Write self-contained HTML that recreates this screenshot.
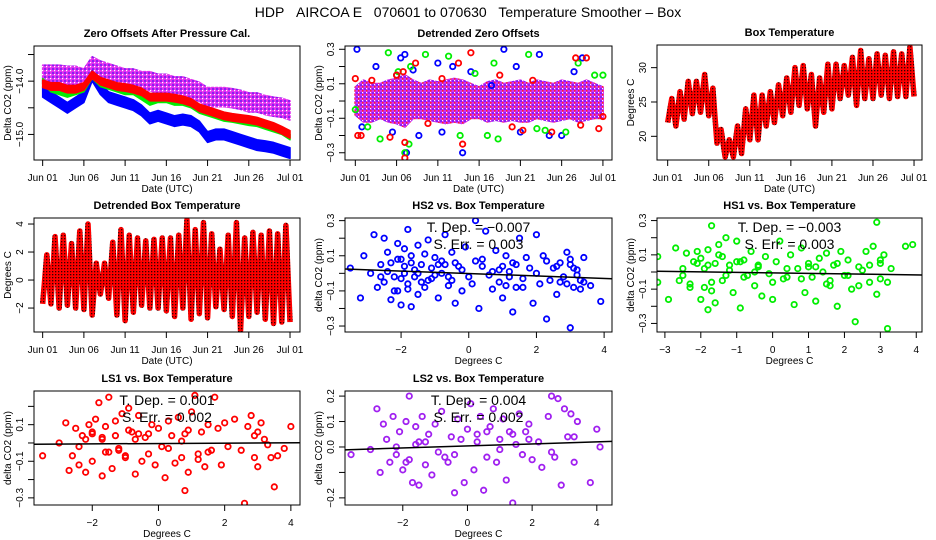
<!DOCTYPE html>
<html><head><meta charset="utf-8"><style>
html,body{margin:0;padding:0;background:#fff;}
svg{display:block;font-family:"Liberation Sans",sans-serif;}
</style></head><body>
<svg id="chart" width="936" height="540" viewBox="0 0 936 540" xmlns="http://www.w3.org/2000/svg">
<defs>
<pattern id="magpat" width="4" height="4" patternUnits="userSpaceOnUse"><rect width="4" height="4" fill="#e030f0"/><rect x="0" y="0" width="2" height="2" fill="#8a20f0"/><rect x="2" y="2" width="1.2" height="1.2" fill="#ffffff"/></pattern>
<pattern id="dzpat" width="4" height="4" patternUnits="userSpaceOnUse"><rect width="4" height="4" fill="#d030f0"/><rect x="0" y="0" width="2" height="2" fill="#8a20f0"/><rect x="2" y="2" width="1.5" height="1.5" fill="#ff2020"/><rect x="2" y="0" width="1" height="1" fill="#ffffff"/></pattern>
<pattern id="redpat" width="3" height="3" patternUnits="userSpaceOnUse"><rect width="3" height="3" fill="#ff0000"/><rect x="1" y="1" width="1.3" height="1.3" fill="#300000"/></pattern>
</defs>
<text x="468" y="17" text-anchor="middle" font-size="14">HDP&#160;&#160;&#160;AIRCOA E&#160;&#160;&#160;070601 to 070630&#160;&#160;&#160;Temperature Smoother – Box</text>
</svg>
<script>
// ---------- data ----------
const dayTicks = [0,5,10,15,20,25,30];
const dayLabels = ["Jun 01","Jun 06","Jun 11","Jun 16","Jun 21","Jun 26","Jul 01"];
// Panel 1: zero offsets (daily band centers)
const zoPurple = [-13.88,-13.88,-13.88,-13.9,-13.9,-13.95,-13.72,-13.8,-13.85,-13.9,-13.95,-13.95,-14.0,-14.0,-14.05,-14.05,-14.1,-14.1,-14.15,-14.2,-14.3,-14.3,-14.3,-14.32,-14.35,-14.4,-14.4,-14.45,-14.48,-14.5,-14.55];
const zoRed = [-14.05,-14.1,-14.1,-14.15,-14.15,-14.1,-13.88,-14.0,-14.05,-14.1,-14.12,-14.15,-14.2,-14.3,-14.3,-14.3,-14.32,-14.35,-14.4,-14.5,-14.55,-14.6,-14.65,-14.68,-14.7,-14.72,-14.75,-14.8,-14.85,-14.92,-15.0];
const zoGreen = [-14.0,-14.15,-14.2,-14.25,-14.2,-14.15,-13.9,-14.05,-14.1,-14.15,-14.2,-14.2,-14.3,-14.4,-14.35,-14.35,-14.4,-14.4,-14.45,-14.55,-14.6,-14.65,-14.7,-14.72,-14.75,-14.78,-14.8,-14.85,-14.9,-14.95,-15.05];
const zoBlue = [-14.2,-14.3,-14.4,-14.5,-14.4,-14.3,-13.9,-14.15,-14.3,-14.35,-14.4,-14.45,-14.55,-14.7,-14.65,-14.7,-14.75,-14.72,-14.75,-14.85,-15.05,-15.0,-15.0,-15.05,-15.1,-15.15,-15.2,-15.22,-15.25,-15.3,-15.35];
// Panel 2: detrended zero offsets
const dzUpper = [0.08,0.12,0.1,0.1,0.12,0.13,0.15,0.12,0.1,0.12,0.11,0.12,0.13,0.12,0.1,0.08,0.11,0.12,0.1,0.11,0.12,0.1,0.12,0.11,0.1,0.12,0.11,0.1,0.12,0.1,0.08];
const dzLower = [-0.08,-0.12,-0.12,-0.1,-0.12,-0.13,-0.15,-0.1,-0.1,-0.11,-0.12,-0.13,-0.12,-0.13,-0.1,-0.1,-0.12,-0.11,-0.12,-0.11,-0.12,-0.12,-0.1,-0.11,-0.12,-0.11,-0.1,-0.12,-0.11,-0.1,-0.1];
const dzRedDay = [0.0,0.3,0.7,2.0,4.2,5.0,5.8,6.0,6.0,7.3,8.8,10.5,12.5,13.0,14.0,17.5,19.0,20.3,21.5,23.8,26.7,27.3,28.0,29.5,30.0];
const dzRedVal = [0.13,-0.2,-0.2,0.12,-0.21,0.15,0.17,-0.24,-0.33,0.22,-0.13,0.13,0.22,-0.25,0.28,0.15,-0.15,-0.17,0.12,-0.18,0.25,-0.14,0.25,-0.16,-0.09];
const dzGreenDay = [0.0,1.5,3.0,4.0,5.2,6.0,6.7,6.5,8.5,11.3,12.7,14.5,16.0,16.8,17.3,21.0,22.0,23.0,25.5,27.0,29.0,30.0];
const dzGreenVal = [-0.05,-0.15,-0.22,0.28,0.17,-0.3,0.2,-0.25,0.27,0.26,-0.2,0.16,-0.2,0.22,-0.22,0.27,-0.16,-0.17,-0.18,0.22,0.15,0.15];
const dzBlueDay = [0.2,0.8,2.5,4.5,5.0,5.5,6.0,6.2,7.0,7.7,10.0,10.5,11.8,13.0,14.0,16.5,18.0,19.5,20.0,22.3,23.5,25.0,26.5,27.5];
const dzBlueVal = [0.3,-0.15,0.2,-0.18,0.15,0.25,0.27,-0.3,0.18,-0.2,0.22,-0.18,0.2,-0.3,0.17,0.09,0.3,0.2,-0.18,0.27,-0.2,-0.2,0.17,0.25];
// Panel 3: box temperature daily min / max
const btMin = [22,21.5,22.5,23.3,23.5,23,19,17,17,17.5,19.5,19.5,21.5,22,23,23.5,24.5,24,21.5,23.5,24,25.5,26,24.5,25.5,25.5,26,25.5,25.8,25.8];
const btMax = [25.5,26.5,28,28,29,27,21,19.5,21.5,24,26,26,26.5,27.5,28.5,30,30.3,29,28.5,30.5,30.5,30.3,31.5,32.5,31.3,32,31.8,32.3,32,33];
// Panel 4: detrended box temperature daily min / max
const dbMin = [-1.7,-1.7,-2.0,-1.8,-2.0,-2.1,-2.5,-1.0,-1.3,-2.5,-2.9,-2.3,-1.8,-2.0,-2.0,-2.2,-2.6,-2.0,-2.8,-2.4,-2.7,-1.9,-2.1,-2.6,-3.6,-2.6,-2.3,-2.8,-3.1,-3.0];
const dbMax = [1.8,3.1,3.2,2.6,3.5,4.0,1.2,1.2,2.7,3.6,3.2,3.0,2.8,2.9,3.0,3.0,3.2,4.3,3.6,4.1,3.3,2.2,3.2,4.1,3.0,3.4,3.2,3.5,3.3,3.9];
// Scatter panels
const hs2X = [-3.5,-3.2,-3.1,-2.9,-2.8,-2.7,-2.6,-2.5,-2.5,-2.4, -2.3,-2.3,-2.2,-2.1,-2.1,-2.0,-2.0,-1.9,-1.9,-1.8, -1.8,-1.7,-1.7,-1.6,-1.5,-1.5,-1.4,-1.3,-1.2,-1.1, -1.0,-0.9,-0.8,-0.7,-0.6,-0.5,-0.4,-0.3,-0.2,-0.1, 0.0,0.2,0.3,0.4,0.5,0.7,0.8,0.9,1.0,1.1, 1.2,1.3,1.4,1.5,1.6,1.8,1.9,2.0,2.1,2.2, 2.3,2.5,2.6,2.7,2.8,2.9,3.0,3.0,3.1,3.2, 3.3,3.4,3.6,3.9,-1.6,-0.7,1.2,2.4,-2.2,0.6, -2.4,-2.0,-1.7,-1.4,-1.1,-0.8,-0.5,-0.2,0.1,0.4, 0.9,1.1,1.3,1.6,2.0,2.3,2.7,3.0,3.2,3.4, -2.6,-1.9,-1.5,-1.2,-0.9,-0.6,0.2,1.0,2.9,3.1, -2.1,-1.8,-1.3,-1.0,-0.4,0.7,1.4,1.7,2.6,3.3];
const hs2Y = [0.03,-0.14,0.10,0.00,0.22,-0.08,0.05,0.20,-0.05,0.12, -0.15,0.06,-0.02,0.17,-0.10,0.08,-0.18,0.00,0.14,-0.06, 0.25,0.10,-0.19,0.02,-0.12,0.16,0.05,-0.08,0.19,-0.03, 0.09,-0.14,0.00,0.22,-0.07,0.12,-0.17,0.04,-0.10,0.15, -0.02,0.30,-0.20,0.08,0.24,-0.09,0.13,-0.05,-0.14,0.10, -0.02,-0.22,0.05,0.20,-0.08,0.03,-0.17,0.22,-0.06,0.10, -0.26,0.03,-0.12,0.06,-0.02,0.12,-0.31,0.05,-0.08,0.02, -0.04,0.09,-0.07,-0.16,-0.02,0.05,0.01,-0.04,-0.10,-0.01, 0.01,-0.03,0.06,-0.05,0.03,0.07,-0.04,0.02,-0.06,0.04, 0.02,-0.07,0.06,-0.03,0.00,0.07,-0.05,0.08,-0.01,-0.05, -0.02,0.04,0.00,-0.04,0.05,-0.02,0.07,0.04,-0.06,0.03, 0.08,-0.09,0.11,-0.01,0.06,0.01,-0.08,0.09,0.04,-0.09];
const hs1X = [-3.2,-3.2,-2.9,-2.7,-2.6,-2.5,-2.4,-2.3,-2.2,-2.1, -2.0,-2.0,-1.9,-1.8,-1.8,-1.7,-1.7,-1.6,-1.6,-1.5, -1.5,-1.4,-1.3,-1.2,-1.1,-1.0,-0.9,-0.8,-0.7,-0.6, -0.5,-0.4,-0.3,-0.2,-0.1,0.0,0.1,0.2,0.3,0.5, 0.6,0.7,0.8,0.9,1.0,1.1,1.2,1.3,1.4,1.5, 1.6,1.7,1.8,1.9,2.0,2.1,2.2,2.3,2.4,2.6, 2.7,2.8,2.9,2.9,3.0,3.1,3.2,3.2,3.7,3.9, -1.8,-1.3,-0.9,0.4,1.0,1.6,2.5,3.0,-2.3,-0.5, -2.5,-2.1,-1.7,-1.4,-1.2,-0.8,-0.4,0.0,0.4,0.8, 1.2,1.5,1.8,2.1,2.4,2.7,3.0,3.3,-1.9,-1.0];
const hs1Y = [0.09,-0.06,-0.16,0.14,-0.05,0.02,0.11,-0.09,0.06,0.12, -0.16,0.08,0.02,-0.22,0.13,-0.11,0.27,0.05,-0.18,0.16, 0.10,-0.05,0.20,0.04,-0.12,0.18,-0.21,0.07,-0.02,0.12, -0.08,0.03,-0.14,0.09,-0.01,-0.16,0.06,0.18,-0.04,0.10, -0.19,0.02,0.14,-0.12,0.05,-0.03,-0.17,0.08,0.00,0.11, -0.08,0.04,-0.20,0.12,-0.02,0.07,-0.10,-0.29,0.03,0.12, -0.06,0.15,0.29,-0.13,0.07,0.10,-0.33,-0.06,0.15,0.16, 0.04,-0.02,0.06,-0.03,0.03,-0.05,0.01,0.05,-0.07,0.00, -0.02,0.05,-0.06,0.09,0.01,-0.03,0.04,-0.06,0.02,-0.04, 0.03,-0.07,0.05,-0.02,-0.08,0.04,-0.04,0.02,-0.09,0.06];
const ls1X = [-3.5,-3.0,-2.8,-2.7,-2.6,-2.5,-2.4,-2.3,-2.2,-2.1, -2.0,-2.0,-1.9,-1.8,-1.7,-1.7,-1.6,-1.5,-1.5,-1.4, -1.3,-1.2,-1.1,-1.0,-0.9,-0.8,-0.7,-0.6,-0.5,-0.4, -0.3,-0.2,-0.1,0.0,0.2,0.3,0.4,0.5,0.6,0.7, 0.8,0.8,0.9,1.0,1.1,1.2,1.3,1.4,1.5,1.6, 1.7,1.8,1.9,2.0,2.1,2.3,2.5,2.6,2.7,2.8, 2.9,3.0,3.0,3.1,3.2,3.4,3.5,3.6,3.8,4.0, -1.7,-1.2,-0.6,0.1,0.7,1.2,2.9,3.3,-2.2,-0.9, -2.4,-2.0,-1.6,-1.3,-1.0,-0.7,-0.3,0.3,0.9,1.5];
const ls1Y = [-0.07,0.00,0.11,-0.15,-0.07,0.08,-0.12,0.04,-0.16,0.10, 0.05,-0.10,0.13,0.22,-0.18,0.02,0.09,-0.05,0.25,-0.14, 0.12,-0.03,0.16,-0.08,0.19,0.06,-0.17,0.15,-0.10,0.03, -0.06,0.10,-0.12,0.08,-0.19,0.12,0.04,-0.11,0.14,-0.08, -0.26,0.05,-0.16,0.17,0.26,-0.09,0.06,-0.13,0.10,-0.04, 0.25,0.08,-0.12,0.11,-0.02,0.13,-0.04,-0.33,0.09,0.15, -0.08,0.06,-0.13,0.11,0.02,-0.08,-0.24,-0.07,-0.03,0.09, 0.03,-0.04,0.05,-0.02,0.01,-0.06,0.04,-0.01,0.02,0.07, -0.02,0.06,-0.05,0.04,-0.07,0.02,0.05,-0.03,0.07,-0.05];
const ls2X = [-3.6,-3.0,-2.8,-2.7,-2.6,-2.5,-2.4,-2.3,-2.2,-2.1, -2.0,-1.9,-1.8,-1.8,-1.7,-1.6,-1.5,-1.5,-1.4,-1.3, -1.2,-1.1,-1.0,-0.9,-0.8,-0.6,-0.5,-0.4,-0.3,-0.2, -0.1,0.0,0.1,0.2,0.3,0.4,0.5,0.6,0.7,0.8, 0.9,1.0,1.1,1.2,1.3,1.4,1.5,1.6,1.7,1.8, 1.9,2.0,2.2,2.3,2.5,2.6,2.7,2.8,2.9,3.0, 3.1,3.2,3.3,3.4,3.8,4.0,4.1,-1.6,-0.4,1.4, -2.2,-1.3,-0.7,0.3,1.0,1.9,2.6,3.3,-1.9,0.6];
const ls2Y = [-0.03,-0.01,0.15,-0.10,0.09,0.03,-0.06,0.12,-0.03,0.06, -0.09,0.10,-0.05,0.20,-0.14,0.08,-0.15,0.02,0.12,-0.07, 0.05,-0.11,0.09,-0.02,0.14,-0.06,0.04,-0.18,0.11,0.03, -0.14,0.07,0.17,-0.09,0.02,0.12,-0.17,-0.04,0.08,0.15, -0.06,0.03,0.11,-0.13,0.06,-0.22,0.01,0.13,-0.03,0.06, 0.09,-0.05,0.02,-0.08,0.12,0.20,-0.04,0.19,-0.15,0.15, 0.04,0.13,-0.06,0.10,-0.14,0.07,0.00,0.01,-0.03,0.05, 0.00,0.02,-0.04,0.05,-0.01,0.03,-0.02,0.04,-0.06,0.06];
const fitSlope = [-0.007,-0.003,0.001,0.004];
const fitIntercept = [-0.001,-0.005,-0.003,0.004];
const fitSE = [0.003,0.003,0.002,0.002];

// ---------- helpers ----------
const NS = "http://www.w3.org/2000/svg";
const svg = document.getElementById("chart");
function el(tag, attrs, parent) {
  const e = document.createElementNS(NS, tag);
  for (const k in attrs) e.setAttribute(k, attrs[k]);
  (parent || svg).appendChild(e);
  return e;
}
function panel(p) {
  const g = el("g", {});
  
  
  p.sx = v => p.x0 + (v - p.xd[0]) / (p.xd[1] - p.xd[0]) * p.w;
  p.sy = v => p.y0 + p.h - (v - p.yd[0]) / (p.yd[1] - p.yd[0]) * p.h;
  p.g = g;
  const t = el("text", {x: p.x0 + p.w / 2, y: p.y0 - 9, "text-anchor": "middle", "font-size": 11, "font-weight": "bold"}, g);
  t.textContent = p.title;
  
  
  const xa = el("g", {}, g);
  
  
  p.xticks.forEach((v, i) => {
    const x = p.sx(v);
    el("line", {x1: x, x2: x, y1: p.y0 + p.h, y2: p.y0 + p.h + 6, stroke: "#000"}, xa);
    const lb = el("text", {x: x, y: p.y0 + p.h + 21, "text-anchor": "middle", "font-size": 10}, xa);
    lb.textContent = p.xlabels[i];
    
    
  });
  const xt = el("text", {x: p.x0 + p.w / 2, y: p.y0 + p.h + 32, "text-anchor": "middle", "font-size": 10}, g);
  xt.textContent = p.xtitle;
  
  
  const ya = el("g", {}, g);
  
  
  p.yticks.forEach((v, i) => {
    const y = p.sy(v);
    el("line", {x1: p.x0 - 6, x2: p.x0, y1: y, y2: y, stroke: "#000"}, ya);
    if (p.ylabels[i]) {
      const lb = el("text", {x: 0, y: 0, "text-anchor": "middle", "font-size": 10, transform: `translate(${p.x0 - 11},${y}) rotate(-90)`}, ya);
      lb.textContent = p.ylabels[i];
      
      
    }
  });
  const yt = el("text", {x: 0, y: 0, "text-anchor": "middle", "font-size": 10, transform: `translate(${p.x0 - 23},${p.y0 + p.h / 2}) rotate(-90)`}, g);
  yt.textContent = p.ytitle;
  
  
  const cp = el("clipPath", {id: "clip-" + p.name}, g);
  el("rect", {x: p.x0, y: p.y0, width: p.w, height: p.h}, cp);
  p.plot = el("g", {"clip-path": `url(#clip-${p.name})`}, g);
  
  
  return p;
}
function frame(p) {
  const b = el("rect", {x: p.x0, y: p.y0, width: p.w, height: p.h, fill: "none", stroke: "#000", "stroke-width": 1}, p.g);
  
  
}
function band(p, centers, half, fill, name) {
  const up = centers.map((v, i) => `${p.sx(i)},${p.sy(v + half)}`);
  const lo = centers.map((v, i) => `${p.sx(i)},${p.sy(v - half)}`).reverse();
  const poly = el("polygon", {points: up.concat(lo).join(" "), fill: fill, stroke: fill, "stroke-width": 1.5, "stroke-linejoin": "round"}, p.plot);
  
  
}
function envelope(p, upper, lower, fill, name) {
  const up = upper.map((v, i) => `${p.sx(i)},${p.sy(v)}`);
  const lo = lower.map((v, i) => `${p.sx(i)},${p.sy(v)}`).reverse();
  const poly = el("polygon", {points: up.concat(lo).join(" "), fill: fill, stroke: fill, "stroke-width": 2, "stroke-linejoin": "round"}, p.plot);
  
  
}
function zigzag(p, mins, maxs, name) {
  const pts = [];
  mins.forEach((v, i) => { pts.push(`${p.sx(i)},${p.sy(v)}`); pts.push(`${p.sx(i + 0.5)},${p.sy(maxs[i])}`); });
  pts.push(`${p.sx(mins.length)},${p.sy(mins[mins.length - 1])}`);
  const pl = el("polyline", {points: pts.join(" "), fill: "none", stroke: "url(#redpat)", "stroke-width": 5.5, "stroke-linejoin": "round"}, p.plot);
  
  
}
function points(p, xs, ys, color, name) {
  const g = el("g", {}, p.plot);
  
  
  xs.forEach((x, i) => {
    const c = el("circle", {cx: p.sx(x), cy: p.sy(ys[i]), r: 2.7, fill: "none", stroke: color, "stroke-width": 1.8}, g);
    
    
  });
}
function fit(p, k) {
  const a = fitIntercept[k], b = fitSlope[k];
  const ln = el("line", {x1: p.sx(p.xd[0]), y1: p.sy(a + b * p.xd[0]), x2: p.sx(p.xd[1]), y2: p.sy(a + b * p.xd[1]), stroke: "#000", "stroke-width": 1.5}, p.plot);
  
  
  const cx = p.x0 + p.w / 2;
  const t1 = el("text", {x: cx, y: p.y0 + 14, "text-anchor": "middle", "font-size": 14}, p.g);
  t1.textContent = "T. Dep. =  " + (b < 0 ? "\u2212" + Math.abs(b).toFixed(3) : b.toFixed(3));
  
  
  const t2 = el("text", {x: cx, y: p.y0 + 31, "text-anchor": "middle", "font-size": 14}, p.g);
  t2.textContent = "S. Err. =  " + fitSE[k].toFixed(3);
  
  
}

// ---------- panels ----------
const p1 = panel({name: "zero-offsets-panel", x0: 34, y0: 46, w: 266, h: 114, xd: [-1.05, 31.21], yd: [-15.48, -13.34],
  xticks: dayTicks, xlabels: dayLabels, yticks: [-15, -14.5, -14, -13.5], ylabels: ["\u221215.0", "", "\u221214.0", ""],
  title: "Zero Offsets After Pressure Cal.", xtitle: "Date (UTC)", ytitle: "Delta CO2 (ppm)"});
band(p1, zoPurple, 0.18, "url(#magpat)", "series-ls2");
band(p1, zoBlue, 0.1, "#0000ff", "series-hs2");
band(p1, zoGreen, 0.05, "#00ee00", "series-hs1");
band(p1, zoRed, 0.07, "#ff0000", "series-ls1");
frame(p1);

const p2 = panel({name: "detrended-zero-offsets-panel", x0: 345, y0: 46, w: 267, h: 114, xd: [-1.25, 31.1], yd: [-0.342, 0.319],
  xticks: dayTicks, xlabels: dayLabels, yticks: [-0.3, -0.2, -0.1, 0, 0.1, 0.2, 0.3], ylabels: ["\u22120.3", "", "\u22120.1", "", "0.1", "", "0.3"],
  title: "Detrended Zero Offsets", xtitle: "Date (UTC)", ytitle: "Delta CO2 (ppm)"});
envelope(p2, dzUpper, dzLower, "url(#dzpat)", "detrended-band");
points(p2, dzBlueDay, dzBlueVal, "#0000ff", "hs2-outliers");
points(p2, dzGreenDay, dzGreenVal, "#00ee00", "hs1-outliers");
points(p2, dzRedDay, dzRedVal, "#ff0000", "ls1-outliers");
frame(p2);

const p3 = panel({name: "box-temperature-panel", x0: 657, y0: 45, w: 265, h: 115, xd: [-1.3, 30.97], yd: [16.55, 33.3],
  xticks: dayTicks, xlabels: dayLabels, yticks: [20, 25, 30], ylabels: ["20", "25", "30"],
  title: "Box Temperature", xtitle: "Date (UTC)", ytitle: "Degrees C"});
zigzag(p3, btMin, btMax, "box-temperature-series");
frame(p3);

const p4 = panel({name: "detrended-box-temperature-panel", x0: 34, y0: 218, w: 266, h: 114, xd: [-1.05, 31.21], yd: [-3.71, 4.43],
  xticks: dayTicks, xlabels: dayLabels, yticks: [-2, 0, 2, 4], ylabels: ["\u22122", "0", "2", "4"],
  title: "Detrended Box Temperature", xtitle: "Date (UTC)", ytitle: "Degrees C"});
zigzag(p4, dbMin, dbMax, "detrended-temperature-series");
frame(p4);

const p5 = panel({name: "hs2-vs-temp-panel", x0: 345, y0: 218, w: 267, h: 114, xd: [-3.657, 4.233], yd: [-0.334, 0.315],
  xticks: [-2, 0, 2, 4], xlabels: ["\u22122", "0", "2", "4"], yticks: [-0.3, -0.2, -0.1, 0, 0.1, 0.2, 0.3], ylabels: ["\u22120.3", "", "\u22120.1", "", "0.1", "", "0.3"],
  title: "HS2 vs. Box Temperature", xtitle: "Degrees C", ytitle: "delta CO2 (ppm)"});
points(p5, hs2X, hs2Y, "#0000ff", "hs2-points");
fit(p5, 0);
frame(p5);

const p6 = panel({name: "hs1-vs-temp-panel", x0: 657, y0: 218, w: 265, h: 114, xd: [-3.22, 4.16], yd: [-0.35, 0.315],
  xticks: [-3, -2, -1, 0, 1, 2, 3, 4], xlabels: ["\u22123", "\u22122", "\u22121", "0", "1", "2", "3", "4"], yticks: [-0.3, -0.2, -0.1, 0, 0.1, 0.2, 0.3], ylabels: ["\u22120.3", "", "\u22120.1", "", "0.1", "", "0.3"],
  title: "HS1 vs. Box Temperature", xtitle: "Degrees C", ytitle: "delta CO2 (ppm)"});
points(p6, hs1X, hs1Y, "#00ee00", "hs1-points");
fit(p6, 1);
frame(p6);

const p7 = panel({name: "ls1-vs-temp-panel", x0: 34, y0: 391, w: 266, h: 114, xd: [-3.76, 4.276], yd: [-0.339, 0.284],
  xticks: [-2, 0, 2, 4], xlabels: ["\u22122", "0", "2", "4"], yticks: [-0.3, -0.2, -0.1, 0, 0.1, 0.2], ylabels: ["\u22120.3", "", "\u22120.1", "", "0.1", ""],
  title: "LS1 vs. Box Temperature", xtitle: "Degrees C", ytitle: "delta CO2 (ppm)"});
points(p7, ls1X, ls1Y, "#ff0000", "ls1-points");
fit(p7, 2);
frame(p7);

const p8 = panel({name: "ls2-vs-temp-panel", x0: 345, y0: 391, w: 267, h: 114, xd: [-3.787, 4.47], yd: [-0.228, 0.22],
  xticks: [-2, 0, 2, 4], xlabels: ["\u22122", "0", "2", "4"], yticks: [-0.2, -0.1, 0, 0.1, 0.2], ylabels: ["\u22120.2", "", "0.0", "0.1", "0.2"],
  title: "LS2 vs. Box Temperature", xtitle: "Degrees C", ytitle: "delta CO2 (ppm)"});
points(p8, ls2X, ls2Y, "#a020f0", "ls2-points");
fit(p8, 3);
frame(p8);
</script>
</body></html>
